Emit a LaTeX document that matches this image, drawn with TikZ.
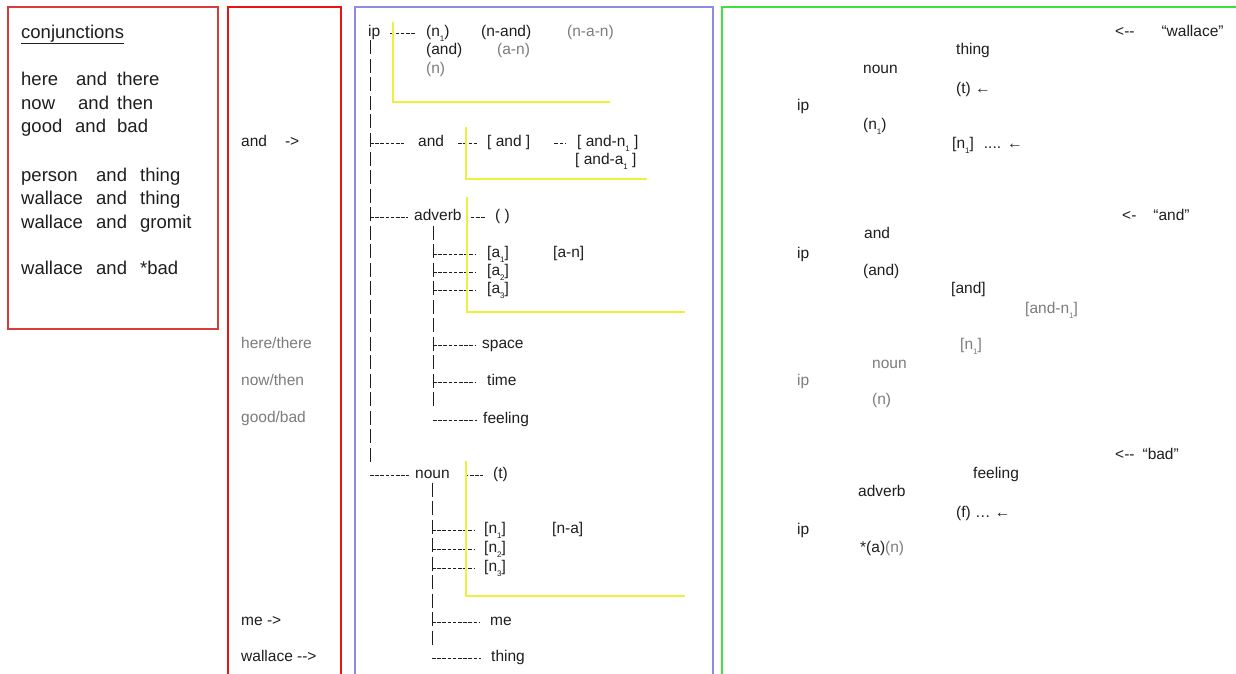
\documentclass[tikz,border=0pt]{standalone}
\usepackage{fontspec}
\setmainfont{Liberation Sans}[Ligatures=TeXOff]
\usepackage{tikz}
\definecolor{boxred}{HTML}{D93A3A}
\definecolor{strongred}{HTML}{E81414}
\definecolor{boxblue}{HTML}{8C8CE6}
\definecolor{boxgreen}{HTML}{3DE23D}
\definecolor{markere}{HTML}{EEF03C}
\definecolor{inktext}{HTML}{1E1E1E}
\colorlet{greytext}{inktext!58!white}
\colorlet{marker}{markere}
\newcommand{\subdig}[1]{% low index
\raisebox{-0.32em}{\fontsize{8}{8}\selectfont #1}}
\tikzstyle{word} =[
    inner sep=0pt,
    anchor=mid west,
    yshift=-3.5pt,
    text=inktext,
    font=\fontsize{15.5}{18}\selectfont
    ]
\tikzstyle{greyword} =[word, text=greytext]
\tikzstyle{bigword} =[word, font=\fontsize{18.5}{22}\selectfont]
\tikzstyle{twig} =[draw=inktext, line width=1.1pt, dash pattern=on 3.5pt off 1.7pt]
\tikzstyle{stem} =[draw=inktext, line width=1pt, dash pattern=on 14pt off 4.5pt]
\tikzstyle{bracket} =[draw=marker, line width=1.6pt]

\begin{document}
\begin{tikzpicture}[x=1pt, y=-1pt]
\clip (0,0) rectangle (1236,674);
\fill[white] (0,0) rectangle (1236,674);

% frames
\draw[boxred, line width=1.3pt] (8,7) rectangle (218,329);
\draw[strongred, line width=2.6pt] (228,7) rectangle (341,700);
\draw[boxblue, line width=2pt] (355,7) rectangle (713,700);
\draw[boxgreen, line width=2.6pt] (722,7) rectangle (1250,700);

% examples
\node[bigword] (title) at (21,32) {\underline{conjunctions}};
\foreach \y/\wa/\xb/\wb/\xc/\wc [count=\i] in {
    79/here/76/and/117/there,
    103/now/78/and/117/then,
    126/good/75/and/117/bad,
    175/person/96/and/140/thing,
    198/wallace/96/and/140/thing,
    222/wallace/96/and/140/gromit,
    268/wallace/96/and/140/*bad}{
    \node[bigword] (row\i-a) at (21,\y) {\wa};
    \node[bigword] (row\i-b) at (\xb,\y) {\wb};
    \node[bigword] (row\i-c) at (\xc,\y) {\wc};
}

% input words
\node[word] (inand) at (241,140) {and\hspace{18pt}->};
\node[greyword] (inhere) at (241,342) {here/there};
\node[greyword] (innow) at (241,379) {now/then};
\node[greyword] (ingood) at (241,416) {good/bad};
\node[word] (inme) at (241,619) {me ->};
\node[word] (inwallace) at (241,655) {wallace -->};

% tree
\node[word] (ip) at (368,30) {ip};
\node[word] (tn1) at (426,30) {(n\subdig{1})};
\node[word] (tnand) at (481,30) {(n-and)};
\node[greyword] (tnan) at (567,30) {(n-a-n)};
\node[word] (tand) at (426,48) {(and)};
\node[greyword] (tan) at (497,48) {(a-n)};
\node[greyword] (tn) at (426,67) {(n)};

\node[word] (band) at (418,140) {and};
\node[word] (bandbr) at (487,140) {[ and ]};
\node[word] (bandn) at (577,140) {[ and-n\subdig{1} ]};
\node[word] (banda) at (575,158) {[ and-a\subdig{1} ]};

\node[word] (badv) at (414,214) {adverb};
\node[word] (badvp) at (495,214) {( )};
\node[word] (a1) at (487,251) {[a\subdig{1}]};
\node[word] (a2) at (487,269) {[a\subdig{2}]};
\node[word] (a3) at (487,287) {[a\subdig{3}]};
\node[word] (aan) at (553,251) {[a-n]};
\node[word] (space) at (482,342) {space};
\node[word] (time) at (487,379) {time};
\node[word] (feeling) at (483,417) {feeling};

\node[word] (bnoun) at (415,472) {noun};
\node[word] (bt) at (493,472) {(t)};
\node[word] (n1) at (484,527) {[n\subdig{1}]};
\node[word] (n2) at (484,546) {[n\subdig{2}]};
\node[word] (n3) at (484,565) {[n\subdig{3}]};
\node[word] (nna) at (552,527) {[n-a]};
\node[word] (me) at (490,619) {me};
\node[word] (thing) at (491,655) {thing};

\coordinate (spine) at (370,40.5);
\coordinate (astem) at (433,225.5);
\coordinate (nstem) at (432,482.5);
\draw[stem] (spine) -- (370,462);
\draw[stem] (astem) -- (433,406);
\draw[stem] (nstem) -- (432,646);

\draw[twig] ([xshift=10pt]ip.mid east) -- ([xshift=-10pt]tn1.mid west);
\draw[twig] (spine |- band.mid west) -- ([xshift=-14pt]band.mid west);
\draw[twig] ([xshift=14pt]band.mid east) -- ([xshift=-10pt]bandbr.mid west);
\draw[twig] ([xshift=24pt]bandbr.mid east) -- ([xshift=-12pt]bandn.mid west);
\draw[twig] (spine |- badv.mid west) -- ([xshift=-6pt]badv.mid west);
\draw[twig] ([xshift=9pt]badv.mid east) -- ([xshift=-10pt]badvp.mid west);
\foreach \leaf/\gap in {a1/11,a2/11,a3/11,space/6,time/11,feeling/6}
    \draw[twig] (astem |- \leaf.mid west) -- ([xshift=-\gap pt]\leaf.mid west);
\draw[twig] (spine |- bnoun.mid west) -- ([xshift=-6pt]bnoun.mid west);
\draw[twig] ([xshift=15pt]bnoun.mid east) -- ([xshift=-10pt]bt.mid west);
\foreach \leaf/\gap in {n1/9,n2/9,n3/9,me/10,thing/10}
    \draw[twig] (nstem |- \leaf.mid west) -- ([xshift=-\gap pt]\leaf.mid west);

% highlights
\draw[bracket] (393,22) -- (393,102) -- (610,102);
\draw[bracket] (466,127) -- (466,179) -- (647,179);
\draw[bracket] (467,197) -- (467,312) -- (685,312);
\draw[bracket] (466,461) -- (466,596) -- (685,596);

% parses
\node[word] (pwallace) at (1115,30) {<--\hspace{27pt}“wallace”};
\node[word] (pthing) at (956,48) {thing};
\node[word] (pnoun) at (863,67) {noun};
\node[word] (pt) at (956,87) {(t) ←};
\node[word] (pip) at (797,104) {ip};
\node[word] (pn1) at (863,123) {(n\subdig{1})};
\node[word] (pn1b) at (952,142) {[n\subdig{1}]\hspace{10pt}....\hspace{6pt}←};

\node[word] (qand) at (1122,214) {<-\hspace{17pt}“and”};
\node[word] (qandw) at (864,232) {and};
\node[word] (qip) at (797,252) {ip};
\node[word] (qandp) at (863,269) {(and)};
\node[word] (qandb) at (951,287) {[and]};
\node[greyword] (qandn) at (1025,307) {[and-n\subdig{1}]};
\node[greyword] (qn1) at (960,343) {[n\subdig{1}]};
\node[greyword] (qnoun) at (872,362) {noun};
\node[greyword] (qip2) at (797,379) {ip};
\node[greyword] (qn) at (872,398) {(n)};

\node[word] (rbad) at (1115,453) {<--\hspace{8pt}“bad”};
\node[word] (rfeeling) at (973,472) {feeling};
\node[word] (radverb) at (858,490) {adverb};
\node[word] (rf) at (956,511) {(f) … ←};
\node[word] (rip) at (797,528) {ip};
\node[word] (ran) at (860,546) {*(a)\textcolor{greytext}{(n)}};
\end{tikzpicture}
\end{document}
